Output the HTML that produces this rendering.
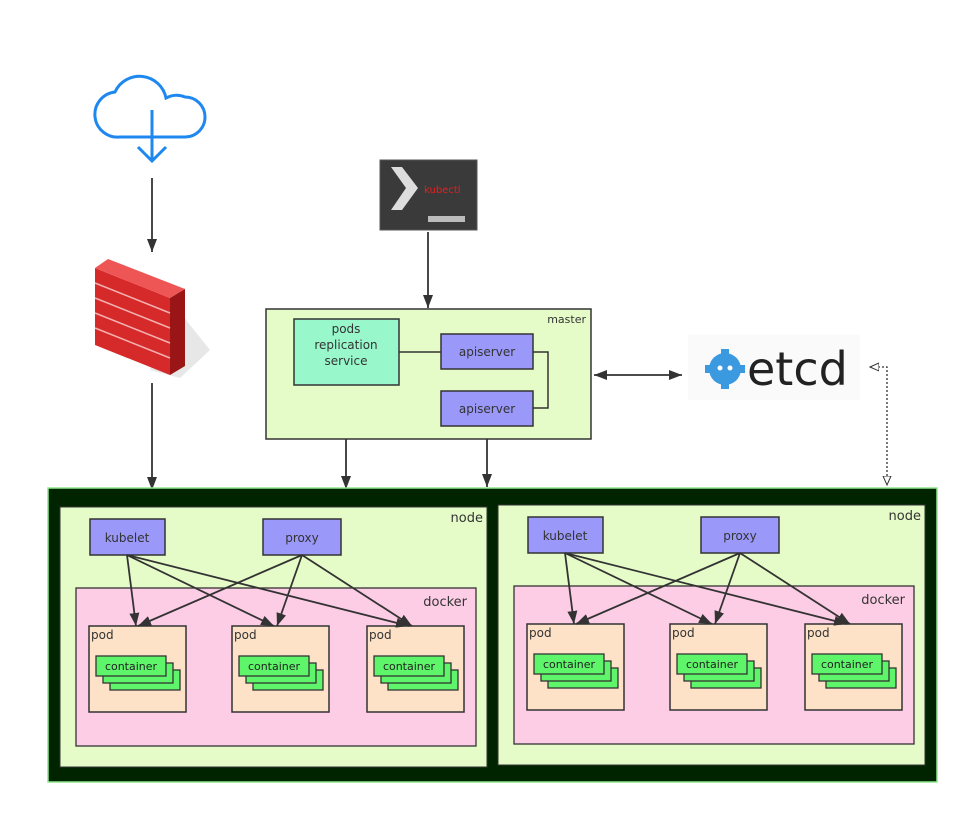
<!DOCTYPE html>
<html><head><meta charset="utf-8"><style>
html,body{margin:0;padding:0;background:#fff}
svg{display:block}
text{font-family:"DejaVu Sans","Liberation Sans",sans-serif}
</style></head><body>
<svg width="969" height="815" viewBox="0 0 969 815" xmlns="http://www.w3.org/2000/svg">
<defs>
<marker id="a" markerWidth="14" markerHeight="14" refX="13" refY="7" orient="auto" markerUnits="userSpaceOnUse"><path d="M0,2 L13,7 L0,12 Z" fill="#333"/></marker>
<marker id="as" markerWidth="14" markerHeight="14" refX="1" refY="7" orient="auto" markerUnits="userSpaceOnUse"><path d="M14,2 L1,7 L14,12 Z" fill="#333"/></marker>
<marker id="h" markerWidth="10" markerHeight="10" refX="9" refY="5" orient="auto" markerUnits="userSpaceOnUse"><path d="M0,1 L9,5 L0,9 Z" fill="#fff" stroke="#333"/></marker>
<marker id="hs" markerWidth="10" markerHeight="10" refX="1" refY="5" orient="auto" markerUnits="userSpaceOnUse"><path d="M10,1 L1,5 L10,9 Z" fill="#fff" stroke="#333"/></marker>
<g id="pod">
<rect x="0" y="0" width="97" height="86" fill="#fde2c8" stroke="#333" stroke-width="1.5"/>
<text x="2" y="13" font-size="12" fill="#333">pod</text>
<rect x="21" y="44" width="70" height="20" fill="#5ef56a" stroke="#333" stroke-width="1.3"/>
<rect x="14" y="37" width="70" height="20" fill="#5ef56a" stroke="#333" stroke-width="1.3"/>
<rect x="7" y="30" width="70" height="20" fill="#5ef56a" stroke="#333" stroke-width="1.3"/>
<text x="42" y="44" font-size="11" fill="#222" text-anchor="middle">container</text>
</g>
<g id="node">
<rect x="0" y="0" width="427" height="260" fill="#e6fcc8" stroke="#333" stroke-width="1"/>
<text x="423" y="15" font-size="13" fill="#333" text-anchor="end">node</text>
<rect x="30" y="12" width="75" height="36" fill="#9a98f8" stroke="#333" stroke-width="1.5"/>
<text x="67" y="35" font-size="12" fill="#333" text-anchor="middle">kubelet</text>
<rect x="203" y="12" width="78" height="36" fill="#9a98f8" stroke="#333" stroke-width="1.5"/>
<text x="242" y="35" font-size="12" fill="#333" text-anchor="middle">proxy</text>
<rect x="16" y="81" width="400" height="158" fill="#fdcde6" stroke="#333" stroke-width="1.3"/>
<text x="407" y="99" font-size="13" fill="#333" text-anchor="end">docker</text>
<use href="#pod" x="29" y="119"/>
<use href="#pod" x="172" y="119"/>
<use href="#pod" x="307" y="119"/>
<g stroke="#333" stroke-width="1.8" fill="none" marker-end="url(#a)">
<line x1="67" y1="48" x2="76" y2="119"/>
<line x1="67" y1="48" x2="214" y2="119"/>
<line x1="67" y1="48" x2="349" y2="119"/>
<line x1="242" y1="48" x2="78" y2="119"/>
<line x1="242" y1="48" x2="217" y2="119"/>
<line x1="242" y1="48" x2="352" y2="119"/>
</g>
</g>
</defs>

<!-- cloud -->
<path d="M120,137 H185 A20,20 0 0 0 185,97 A22,22 0 0 0 166,98 A27,27 0 0 0 115,92 A22,22 0 0 0 120,137 Z" fill="none" stroke="#1e88f0" stroke-width="3"/>
<line x1="152" y1="110" x2="152" y2="160" stroke="#1e88f0" stroke-width="3"/>
<path d="M138,147 L152,161 L166,147" fill="none" stroke="#1e88f0" stroke-width="3"/>

<!-- firewall -->
<polygon points="170,300 210,350 180,378 150,370" fill="#ddd" opacity="0.7"/>
<polygon points="95,268 170,298 170,375 95,345" fill="#d62a2a"/>
<polygon points="95,268 108,259 185,289 170,298" fill="#ee5555"/>
<polygon points="170,298 185,289 185,366 170,375" fill="#9a1515"/>
<g stroke="#f3b0b0" stroke-width="1.5">
<line x1="95" y1="283" x2="170" y2="313"/><line x1="95" y1="298" x2="170" y2="328"/>
<line x1="95" y1="313" x2="170" y2="343"/><line x1="95" y1="328" x2="170" y2="358"/>
</g>

<!-- kubectl -->
<rect x="380" y="160" width="97" height="70" fill="#3a3a3a" stroke="#555"/>
<polygon points="391,167 402,167 418,188 402,210 391,210 406,188" fill="#ddd"/>
<rect x="428" y="216" width="37" height="6" fill="#bbb"/>
<text x="424" y="193" font-size="10" fill="#e02020">kubectl</text>

<!-- arrows top -->
<g stroke="#333" stroke-width="1.8" fill="none" marker-end="url(#a)">
<line x1="152" y1="178" x2="152" y2="252"/>
<line x1="152" y1="383" x2="152" y2="490"/>
<line x1="428" y1="232" x2="428" y2="308"/>
<line x1="346" y1="385" x2="346" y2="489"/>
<line x1="487" y1="426" x2="487" y2="487"/>
</g>

<!-- master -->
<rect x="266" y="309" width="325" height="130" fill="#e6fcc8" stroke="#333" stroke-width="1.5"/>
<text x="586" y="323" font-size="11" fill="#333" text-anchor="end">master</text>
<rect x="294" y="319" width="105" height="66" fill="#98f8cc" stroke="#333" stroke-width="1.5"/>
<text x="346" y="333" font-size="12" fill="#333" text-anchor="middle">pods</text>
<text x="346" y="349" font-size="12" fill="#333" text-anchor="middle">replication</text>
<text x="346" y="365" font-size="12" fill="#333" text-anchor="middle">service</text>
<rect x="441" y="334" width="92" height="35" fill="#9a98f8" stroke="#333" stroke-width="1.5"/>
<text x="487" y="356" font-size="12" fill="#333" text-anchor="middle">apiserver</text>
<rect x="441" y="391" width="92" height="35" fill="#9a98f8" stroke="#333" stroke-width="1.5"/>
<text x="487" y="413" font-size="12" fill="#333" text-anchor="middle">apiserver</text>
<polyline points="399,352 441,352" stroke="#333" stroke-width="1.5" fill="none"/>
<polyline points="533,352 548,352 548,408 533,408" stroke="#333" stroke-width="1.5" fill="none"/>
<line x1="594" y1="375" x2="682" y2="375" stroke="#333" stroke-width="1.8" marker-end="url(#a)" marker-start="url(#as)"/>

<!-- etcd -->
<rect x="688" y="335" width="172" height="65" fill="#fafafa"/>
<circle cx="725" cy="369" r="16" fill="#3b99e0"/>
<g fill="#3b99e0"><rect x="721" y="349" width="8" height="8"/><rect x="721" y="381" width="8" height="8"/><rect x="705" y="365" width="8" height="8"/><rect x="737" y="365" width="8" height="8"/></g>
<circle cx="720" cy="368" r="2.5" fill="#fff"/><circle cx="730" cy="368" r="2.5" fill="#fff"/>
<text x="747" y="385" font-size="46" fill="#222" font-family="Liberation Sans,sans-serif">etcd</text>
<polyline points="870,367 887,367 887,485" stroke="#333" stroke-width="1.3" stroke-dasharray="2,2" fill="none" marker-start="url(#hs)" marker-end="url(#h)"/>

<!-- outer -->
<rect x="48" y="488" width="889" height="294" fill="#002400" stroke="#8de88d" stroke-width="1.5"/>
<use href="#node" x="60" y="507"/>
<use href="#node" x="498" y="505"/>
</svg>
</body></html>
